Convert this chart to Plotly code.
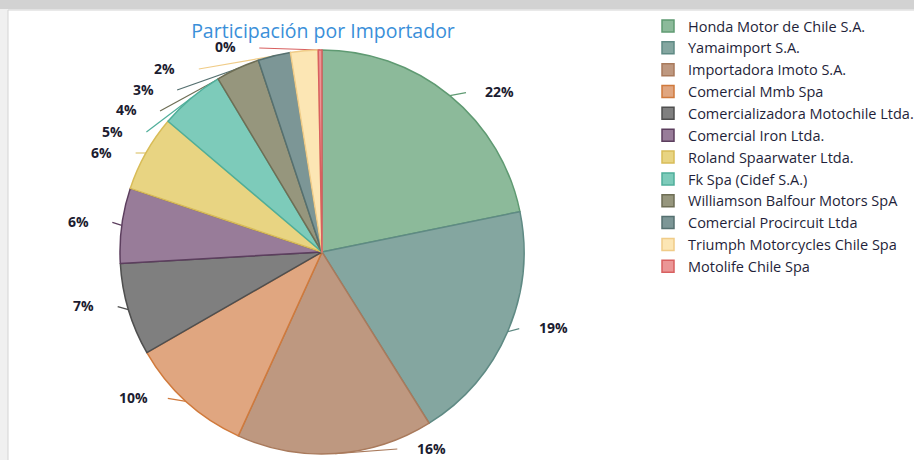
import math
import plotly.graph_objects as go

# ---- data ----
importers = [
    "Honda Motor de Chile S.A.",
    "Yamaimport S.A.",
    "Importadora Imoto S.A.",
    "Comercial Mmb Spa",
    "Comercializadora Motochile Ltda.",
    "Comercial Iron Ltda.",
    "Roland Spaarwater Ltda.",
    "Fk Spa (Cidef S.A.)",
    "Williamson Balfour Motors SpA",
    "Comercial Procircuit Ltda",
    "Triumph Motorcycles Chile Spa",
    "Motolife Chile Spa",
]
shares = [21.8, 19.3, 15.7, 9.9, 7.4, 6.0, 6.1, 5.2, 3.5, 2.6, 2.2, 0.3]
colors = ["#8cba9a", "#84a6a0", "#be9880", "#e0a680", "#7f7f7f", "#987c99",
          "#e8d482", "#7dcbba", "#96967d", "#7c9696", "#fce6b4", "#eb9696"]
edge_colors = ["#5f9a72", "#5f8a84", "#a97a5c", "#d07a3c", "#4f4f4f", "#5c3e5e",
               "#d8bc58", "#4fae9a", "#6e6e55", "#557070", "#f0cc88", "#d86060"]
title_text = "Participación por Importador"

# ---- layout constants ----
W, H = 914, 460
CX, CY, R = 322, 252, 202
FONT = "Open Sans"

fig = go.Figure()
fig.add_trace(go.Pie(
    labels=importers, values=shares, sort=False, direction="clockwise", rotation=0,
    marker=dict(colors=colors, line=dict(color=edge_colors, width=1.5)),
    textinfo="none", hoverinfo="label+percent",
    domain=dict(x=[(CX - R) / W, (CX + R) / W], y=[1 - (CY + R) / H, 1 - (CY - R) / H]),
))

# ---- label layout computed from the data ----
total = sum(shares)
cum = 0.0
items = []
for i, v in enumerate(shares):
    a0 = cum / total * 360
    cum += v
    a1 = cum / total * 360
    th = (a0 + a1) / 2
    ex = CX + R * math.sin(math.radians(th))
    ey = CY - R * math.cos(math.radians(th))
    side = 1 if th < 180 else -1
    ynat = ey - 4
    y = min(max(ynat, 47), 448)
    items.append(dict(i=i, th=th, ex=ex, ey=ey, side=side, xnat=ex + side * 47,
                      y=y, clamped=(abs(y - ynat) > 0.01), pushed=False))

for s in (1, -1):
    grp = [it for it in items if it["side"] == s]
    if s == -1:
        grp.sort(key=lambda it: (it["y"], -it["th"]))
    else:
        grp.sort(key=lambda it: (it["y"], it["th"]))
    prev = None
    for it in grp:
        if prev is not None and it["y"] < prev + 21:
            it["y"] = prev + 21
            it["pushed"] = True
        prev = it["y"]

RL = 242
shapes = [
    dict(type="rect", xref="paper", yref="paper", x0=0, x1=1, y0=1 - 9 / H, y1=1,
         fillcolor="#d2d2d2", line=dict(width=0), layer="below"),
    dict(type="rect", xref="paper", yref="paper", x0=8 / W, x1=1.02, y0=-0.02, y1=1 - 10 / H,
         fillcolor="white", line=dict(color="#d4d4d4", width=1), layer="below"),
]
annotations = []
for it in items:
    dy = it["y"] - CY
    xc = CX + it["side"] * math.sqrt(max(RL ** 2 - dy ** 2, 0))
    if it["pushed"]:
        x = xc
    elif it["clamped"]:
        x = 0.4 * it["xnat"] + 0.6 * xc
    else:
        x = (it["xnat"] + xc) / 2
    pct = int(shares[it["i"]] / total * 100 + 0.5)
    annotations.append(dict(x=x / W, y=1 - it["y"] / H, xref="paper", yref="paper",
                            text=f"<b>{pct}%</b>", showarrow=False, xanchor="center",
                            yanchor="middle",
                            font=dict(family=FONT, size=14, color="#1c1c30")))
    ax = x - it["side"] * 34
    shapes.append(dict(type="line", xref="paper", yref="paper",
                       x0=it["ex"] / W, y0=1 - it["ey"] / H,
                       x1=ax / W, y1=1 - (it["y"] + 1) / H,
                       line=dict(color=edge_colors[it["i"]], width=1.2), layer="below"))

fig.update_layout(
    width=W, height=H,
    margin=dict(l=0, r=0, t=0, b=0, autoexpand=False),
    paper_bgcolor="#f0f0f0",
    title=dict(text=title_text, x=323 / W, y=1 - 31 / H, xanchor="center", yanchor="middle",
               font=dict(family=FONT, size=19.5, color="#3a8fd9")),
    showlegend=True,
    legend=dict(x=648 / W, y=1 - 10 / H, xanchor="left", yanchor="top",
                font=dict(family=FONT, size=14.5, color="#1f1f3a"),
                bgcolor="rgba(0,0,0,0)", traceorder="normal"),
    shapes=shapes,
    annotations=annotations,
)

fig.write_html("out.html", config={"displayModeBar": False},
               post_script="document.body.style.margin='0px';")
